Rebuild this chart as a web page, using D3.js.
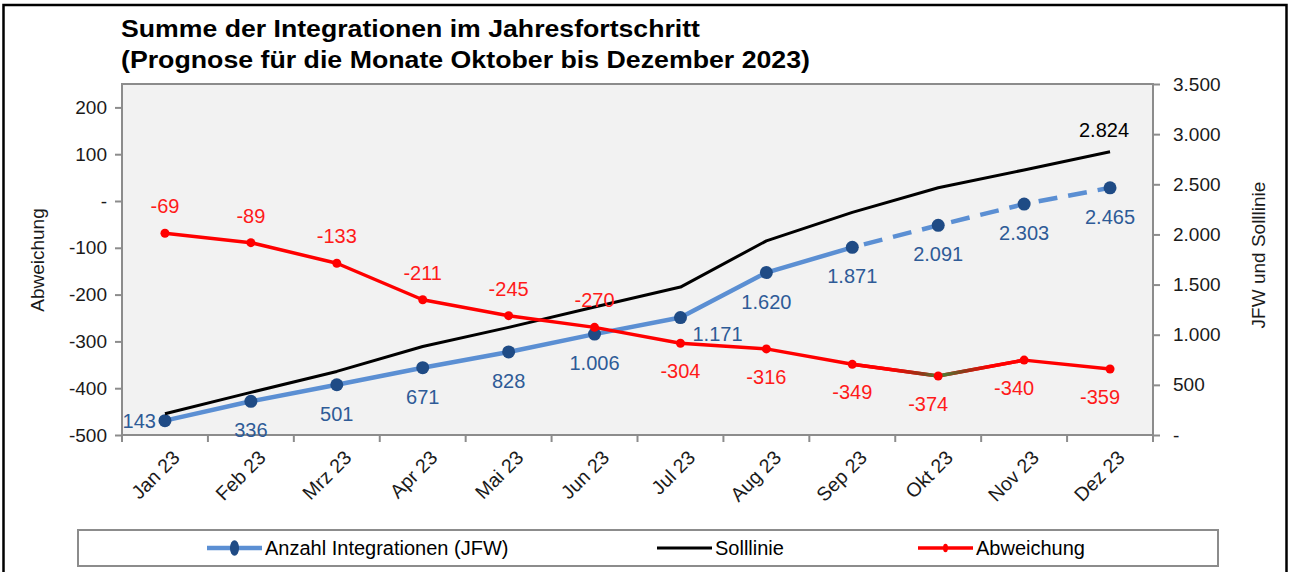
<!DOCTYPE html>
<html>
<head>
<meta charset="utf-8">
<script src="https://cdn.jsdelivr.net/npm/d3@7"></script>
<style>
  body { margin: 0; background: #fff; }
  svg { display: block; font-family: "Liberation Sans", Arial, sans-serif; }
</style>
</head>
<body>
<script>
var width = 1289,
    height = 572

// data
var months = ['Jan 23', 'Feb 23', 'Mrz 23', 'Apr 23', 'Mai 23', 'Jun 23',
              'Jul 23', 'Aug 23', 'Sep 23', 'Okt 23', 'Nov 23', 'Dez 23']
var jfw   = [143, 336, 501, 671, 828, 1006, 1171, 1620, 1871, 2091, 2303, 2465]
var soll  = [212, 425, 634, 882, 1073, 1276, 1475, 1936, 2220, 2465, 2643, 2824]
var abw   = [-69, -89, -133, -211, -245, -270, -304, -316, -349, -374, -340, -359]
var lastActual = 'Sep 23'   // forecast (dashed) after this month

var leftTicks  = [-500, -400, -300, -200, -100, 0, 100, 200]
var rightTicks = [0, 500, 1000, 1500, 2000, 2500, 3000, 3500]

var titleLines = ['Summe der Integrationen im Jahresfortschritt',
                  '(Prognose für die Monate Oktober bis Dezember 2023)']

// where each data label sits relative to its point
var jfwLabelPos = ['left', 'below', 'below', 'below', 'below', 'below',
                   'right', 'below', 'below', 'below', 'below', 'below']
var abwLabelPos = ['above', 'above', 'above', 'above', 'above', 'above',
                   'below', 'below', 'below', 'below', 'below', 'below']

var blueLine = '#5b8fd3', blueDot = '#1f4b85', blueText = '#2e5b97',
    red = '#ff0000', gridGray = '#8c8c8c'

var margin = {left: 122, right: 1289 - 1153, top: 84, bottom: 572 - 435}
var plotW = width - margin.left - margin.right,
    plotH = height - margin.top - margin.bottom

// German style: dot as thousands separator, plain hyphen, zero as dash
var fmt = function(v) {
  if (v === 0) return '-'
  return d3.format(',')(v).replace(/,/g, '.').replace('\u2212', '-')
}

var x = d3.scaleBand().domain(months).range([0, plotW]).padding(0)
var yL = d3.scaleLinear().domain([-500, 250]).range([plotH, 0])
var yR = d3.scaleLinear().domain([0, 3500]).range([plotH, 0])
var cx = function(m) { return x(m) + x.bandwidth() / 2 }

var svg = d3.select('body').append('svg')
    .attr('width', width).attr('height', height)

var defs = svg.append('defs')

// outer frame
svg.append('rect')
    .attr('x', 3.5).attr('y', 5).attr('width', 1283).attr('height', 640)
    .attr('fill', 'none').attr('stroke', '#000').attr('stroke-width', 2.5)

// title
svg.selectAll('text.title').data(titleLines).enter().append('text')
    .attr('class', 'title')
    .attr('x', 121).attr('y', function(d, i) { return 37 + i * 31 })
    .attr('font-size', 23).attr('font-weight', 'bold').attr('fill', '#000')
    .attr('textLength', function(d, i) { return i ? 689 : 579 })
    .attr('lengthAdjust', 'spacingAndGlyphs')
    .text(function(d) { return d })

var g = svg.append('g').attr('transform', 'translate(' + margin.left + ',' + margin.top + ')')

g.append('rect')
    .attr('width', plotW).attr('height', plotH)
    .attr('fill', '#f2f2f2').attr('stroke', gridGray).attr('stroke-width', 2)

// left axis
var leftAxis = g.append('g')
    .call(d3.axisLeft(yL).tickValues(leftTicks).tickSize(7).tickPadding(8).tickFormat(fmt))
leftAxis.select('.domain').attr('stroke', gridGray).attr('stroke-width', 2)
    .attr('d', 'M0,' + plotH + 'V0')
leftAxis.selectAll('.tick line').attr('stroke', gridGray).attr('stroke-width', 2)
leftAxis.selectAll('.tick text').attr('font-size', 19).attr('fill', '#1a1a1a')
    .attr('font-family', '"Liberation Sans", Arial, sans-serif')

// right axis
var rightAxis = g.append('g').attr('transform', 'translate(' + plotW + ',0)')
    .call(d3.axisRight(yR).tickValues(rightTicks).tickSize(7).tickPadding(13).tickFormat(fmt))
rightAxis.select('.domain').attr('stroke', gridGray).attr('stroke-width', 2)
    .attr('d', 'M0,' + plotH + 'V0')
rightAxis.selectAll('.tick line').attr('stroke', gridGray).attr('stroke-width', 2)
rightAxis.selectAll('.tick text').attr('font-size', 19).attr('fill', '#1a1a1a')
    .attr('font-family', '"Liberation Sans", Arial, sans-serif')

// bottom axis: tick marks between categories, labels rotated
var bottom = g.append('g').attr('transform', 'translate(0,' + plotH + ')')
bottom.append('line').attr('x1', 0).attr('x2', plotW)
    .attr('stroke', gridGray).attr('stroke-width', 2)
bottom.selectAll('line.tk').data(months.concat(['end'])).enter().append('line')
    .attr('class', 'tk')
    .attr('x1', function(d, i) { return i * x.bandwidth() })
    .attr('x2', function(d, i) { return i * x.bandwidth() })
    .attr('y1', 0).attr('y2', 7)
    .attr('stroke', gridGray).attr('stroke-width', 2)
bottom.selectAll('text').data(months).enter().append('text')
    .attr('transform', function(d) { return 'translate(' + (cx(d) + 6) + ',14) rotate(-45)' })
    .attr('text-anchor', 'end').attr('dy', '0.72em')
    .attr('font-size', 19.5).attr('fill', '#1a1a1a')
    .text(function(d) { return d })

// axis titles (both read bottom-to-top)
svg.append('text')
    .attr('transform', 'translate(44,260) rotate(-90)')
    .attr('text-anchor', 'middle').attr('font-size', 19).attr('fill', '#1a1a1a')
    .text('Abweichung')
svg.append('text')
    .attr('transform', 'translate(1265,255) rotate(-90)')
    .attr('text-anchor', 'middle').attr('font-size', 19).attr('fill', '#1a1a1a')
    .text('JFW und Solllinie')

// ---- series ----
var rows = months.map(function(m, i) {
  return {m: m, i: i, jfw: jfw[i], soll: soll[i], abw: abw[i]}
})
var cut = months.indexOf(lastActual)

var lineJ = d3.line().x(function(d) { return cx(d.m) }).y(function(d) { return yR(d.jfw) })
var lineS = d3.line().x(function(d) { return cx(d.m) }).y(function(d) { return yR(d.soll) })
var lineA = d3.line().x(function(d) { return cx(d.m) }).y(function(d) { return yL(d.abw) })

// JFW actual + forecast
g.append('path').datum(rows.slice(0, cut + 1))
    .attr('d', lineJ).attr('fill', 'none')
    .attr('stroke', blueLine).attr('stroke-width', 4.5).attr('stroke-linejoin', 'round')
g.append('path').datum(rows.slice(cut))
    .attr('d', lineJ).attr('fill', 'none')
    .attr('stroke', blueLine).attr('stroke-width', 4.5)
    .attr('stroke-dasharray', '19,11').attr('stroke-dashoffset', -12)
g.selectAll('circle.j').data(rows).enter().append('circle')
    .attr('class', 'j')
    .attr('cx', function(d) { return cx(d.m) }).attr('cy', function(d) { return yR(d.jfw) })
    .attr('r', 6.5).attr('fill', blueDot)

// Solllinie
g.append('path').datum(rows)
    .attr('d', lineS).attr('fill', 'none')
    .attr('stroke', '#000').attr('stroke-width', 3).attr('stroke-linejoin', 'round')

// Abweichung
g.append('path').datum(rows)
    .attr('d', lineA).attr('fill', 'none')
    .attr('stroke', red).attr('stroke-width', 3.5).attr('stroke-linejoin', 'round')

// the greenish tint around Okt in the original
var okt = months.indexOf('Okt 23')
var segs = [
  {a: rows[okt - 1], b: rows[okt], stops: [[0, red], [0.45, red], [0.82, '#8a3a18'], [1, '#3f8a3a']]},
  {a: rows[okt], b: rows[okt + 1], stops: [[0, '#3f8a3a'], [0.3, '#8a3a18'], [0.6, red], [1, red]]}
]
segs.forEach(function(s, k) {
  var grad = defs.append('linearGradient').attr('id', 'seg' + k)
      .attr('gradientUnits', 'userSpaceOnUse')
      .attr('x1', cx(s.a.m)).attr('y1', yL(s.a.abw))
      .attr('x2', cx(s.b.m)).attr('y2', yL(s.b.abw))
  grad.selectAll('stop').data(s.stops).enter().append('stop')
      .attr('offset', function(d) { return d[0] }).attr('stop-color', function(d) { return d[1] })
  g.append('path').datum([s.a, s.b])
      .attr('d', lineA).attr('fill', 'none')
      .attr('stroke', 'url(#seg' + k + ')').attr('stroke-width', 3.5)
})

g.selectAll('circle.a').data(rows).enter().append('circle')
    .attr('class', 'a')
    .attr('cx', function(d) { return cx(d.m) }).attr('cy', function(d) { return yL(d.abw) })
    .attr('r', 4.5).attr('fill', red)

// ---- data labels ----
g.selectAll('text.jl').data(rows).enter().append('text')
    .attr('class', 'jl')
    .attr('x', function(d) {
      var p = jfwLabelPos[d.i]
      return cx(d.m) + (p == 'left' ? -9 : p == 'right' ? 12 : 0)
    })
    .attr('y', function(d) {
      var p = jfwLabelPos[d.i]
      return yR(d.jfw) + (p == 'left' ? 7 : p == 'right' ? 23 : 36)
    })
    .attr('text-anchor', function(d) {
      var p = jfwLabelPos[d.i]
      return p == 'left' ? 'end' : p == 'right' ? 'start' : 'middle'
    })
    .attr('font-size', 20).attr('fill', blueText)
    .text(function(d) { return fmt(d.jfw) })

g.selectAll('text.al').data(rows).enter().append('text')
    .attr('class', 'al')
    .attr('x', function(d) { return cx(d.m) - (abwLabelPos[d.i] == 'below' && d.i > 8 ? 10 : 0) })
    .attr('y', function(d) { return yL(d.abw) + (abwLabelPos[d.i] == 'above' ? -20 : 35) })
    .attr('text-anchor', 'middle')
    .attr('font-size', 20).attr('fill', '#ff1a1a')
    .text(function(d) { return fmt(d.abw) })

var lastRow = rows[rows.length - 1]
g.append('text')
    .attr('x', cx(lastRow.m) - 6).attr('y', yR(lastRow.soll) - 15)
    .attr('text-anchor', 'middle').attr('font-size', 20).attr('fill', '#000')
    .text(fmt(lastRow.soll))

// ---- legend ----
var legend = svg.append('g')
legend.append('rect')
    .attr('x', 78).attr('y', 530).attr('width', 1140).attr('height', 36)
    .attr('fill', '#fff').attr('stroke', gridGray).attr('stroke-width', 2)

var items = [
  {name: 'Anzahl Integrationen (JFW)', x: 207, color: blueLine, dot: blueDot, r: 6.5, w: 4.5},
  {name: 'Solllinie', x: 657, color: '#000', dot: null, r: 0, w: 3},
  {name: 'Abweichung', x: 918, color: red, dot: red, r: 3.5, w: 3.5}
]
var li = legend.selectAll('g.item').data(items).enter().append('g')
    .attr('class', 'item')
    .attr('transform', function(d) { return 'translate(' + d.x + ',548)' })
li.append('line').attr('x1', 0).attr('x2', 55)
    .attr('stroke', function(d) { return d.color })
    .attr('stroke-width', function(d) { return d.w })
li.filter(function(d) { return d.dot }).append('ellipse')
    .attr('cx', 27.5).attr('rx', function(d) { return d.r * 0.7 }).attr('ry', function(d) { return d.r * 1.2 })
    .attr('fill', function(d) { return d.dot })
li.append('text')
    .attr('x', 58).attr('dy', '0.35em')
    .attr('font-size', 20).attr('fill', '#000')
    .text(function(d) { return d.name })
</script>
</body>
</html>
